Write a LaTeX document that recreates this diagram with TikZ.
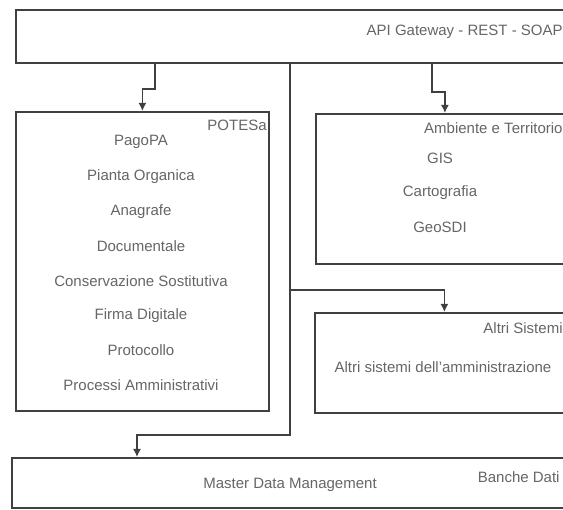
\documentclass[tikz,border=0pt]{standalone}
\usepackage{fontspec}
\setmainfont{Liberation Sans}
\usetikzlibrary{arrows.meta,shadows}

\begin{document}
\begin{tikzpicture}[x=1pt,y=-1pt,
    %
    box/.style={rectangle, draw=black!75, fill=white, line width=1.8pt, anchor=north west,
    inner sep=0pt, drop shadow={shadow xshift=1.2pt, shadow yshift=-1.2pt, fill=black!45, opacity=1}},
    lbl/.style={anchor=east, inner sep=0pt},
    item/.style={inner sep=0pt},
    arr/.style={draw=black!75, line width=1.5pt, -{Latex[length=8pt,width=8pt]}}]
    \tikzstyle{every node}=[font=\fontsize{15}{18}\selectfont, text=black!60]
    \useasboundingbox (0,0) rectangle (563,510);
    \clip (0,0) rectangle (563,510);
    % boxes
    \node[box, minimum width=558pt, minimum height=53pt] (api) at (15,9) {};
    \node[box, minimum width=253pt, minimum height=299pt] (potesa) at (15,111) {};
    \node[box, minimum width=258pt, minimum height=150pt] (amb) at (315,113) {};
    \node[box, minimum width=259pt, minimum height=100pt] (altri) at (314,312) {};
    \node[box, minimum width=562pt, minimum height=50pt] (mdm) at (11,457) {};
    % titles
    \node[lbl] (apit) at ([xshift=-12pt,yshift=-23pt]api.north east) {API Gateway - REST - SOAP};
    \node[lbl] (potesat) at ([xshift=-3pt,yshift=-14pt]potesa.north east) {POTESa};
    \node[lbl] (ambt) at ([xshift=-12pt,yshift=-15pt]amb.north east) {Ambiente e Territorio};
    \node[lbl] (altrit) at ([xshift=-12pt,yshift=-16pt]altri.north east) {Altri Sistemi};
    \node[lbl] (mdmt) at ([xshift=-15pt,yshift=-20pt]mdm.north east) {Banche Dati};
    % contents
    \foreach \t [count=\i] in {PagoPA, Pianta Organica, Anagrafe, Documentale,
        Conservazione Sostitutiva, Firma Digitale, Protocollo, Processi Amministrativi}
        \node[item] (p\i) at (141,{142+34.7*(\i-1)}) {\t};
    \foreach \t [count=\i] in {GIS, Cartografia, GeoSDI}
        \node[item] (a\i) at (440,{158+34.5*(\i-1)}) {\t};
    \node[item] (s1) at (443,367) {Altri sistemi dell'amministrazione};
    \node[item] (m1) at (290,485) {Master Data Management};
    % connectors
    \coordinate (tj) at ([xshift=275pt]api.south west |- 0,290);
    \coordinate (mdmin) at ([xshift=126pt]mdm.north west);
    \draw[arr] ([xshift=140pt]api.south west) -- ++(0,25) -| (potesa.north);
    \draw[arr] ([xshift=417pt]api.south west) -- ++(0,28) -| (amb.north);
    \draw[arr] ([xshift=275pt]api.south west) -- ++(0,371) -| (mdmin);
    \draw[arr] (tj) -| (altri.north);
\end{tikzpicture}
\end{document}
